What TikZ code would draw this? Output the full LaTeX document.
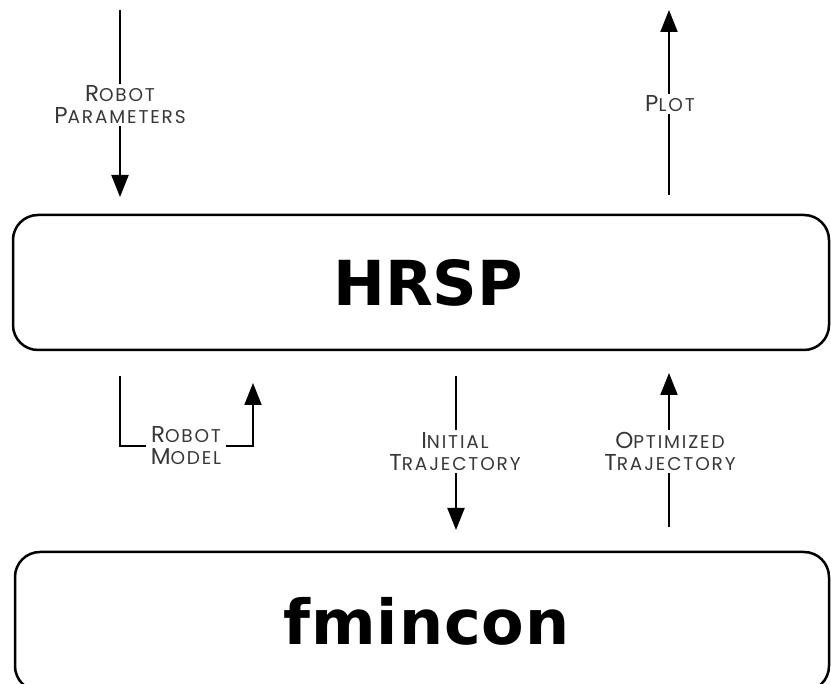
\documentclass[tikz,border=0pt]{standalone}
\usepackage{fontspec}
\setmainfont{DejaVu Sans}
\newfontfamily\labelfont[LetterSpace=10]{Poppins}
\usetikzlibrary{arrows.meta}

% simulated small capitals: a large initial followed by smaller capitals
\newcommand\smc[2]{{\fontsize{23}{22}\selectfont #1}{\fontsize{18.5}{22}\selectfont #2}}

\tikzset{
  block/.style={draw, line width=2.5pt, rounded corners=25pt, inner sep=0pt,
    font=\fontsize{62}{62}\selectfont\bfseries},
  flow/.style={line width=2pt, -{Triangle[length=22pt,width=17pt]}},
  tag/.style={fill=white, inner xsep=5pt, inner ysep=2pt, align=center,
    text=black!78, font=\labelfont\fontsize{18.5}{22}\selectfont},
}

\begin{document}
\begin{tikzpicture}[x=1pt, y=-1pt]
\useasboundingbox (0,0) rectangle (831,684);

% the two program blocks
\node[block, minimum width=816pt, minimum height=135pt] (hrsp) at (421,282.5) {\hspace{14pt}HRSP};
\node[block, minimum width=814pt, minimum height=139pt] (fmin) at (422,621.5) {\hspace{9pt}f\kern1pt m\kern1pt i\kern1pt n\kern1pt c\kern1pt o\kern1pt n};

% free ends of the outer connectors
\coordinate (rpin)  at (120,10);
\coordinate (rpout) at (120,197);
\coordinate (plin)  at (669,195);
\coordinate (plout) at (669,10);

% connectors between the blocks
\coordinate (rm1) at (120,376);
\coordinate (rm2) at (253,446);
\coordinate (rm3) at (253,383);
\coordinate (it1) at (456,376);
\coordinate (it2) at (456,530);
\coordinate (ot1) at (669,527);
\coordinate (ot2) at (669,373);

% inputs and outputs of HRSP
\draw[flow] (rpin) -- (rpout);
\node[tag] (rplbl) at (120,105) {\smc{R}{OBOT}\\\smc{P}{ARAMETERS}};

\draw[flow] (plin) -- (plout);
\node[tag] (pllbl) at (670,104) {\smc{P}{LOT}};

% robot model hand-off
\draw[flow] (rm1) |- (rm2) -- (rm3);
\node[tag] (rmlbl) at (186,446) {\smc{R}{OBOT}\\\smc{M}{ODEL}};

% trajectories exchanged with the optimiser
\draw[flow] (it1) -- (it2);
\node[tag] (itlbl) at (455,451.5) {\smc{I}{NITIAL}\\\smc{T}{RAJECTORY}};

\draw[flow] (ot1) -- (ot2);
\node[tag] (otlbl) at (670,451.5) {\smc{O}{PTIMIZED}\\\smc{T}{RAJECTORY}};
\end{tikzpicture}
\end{document}
